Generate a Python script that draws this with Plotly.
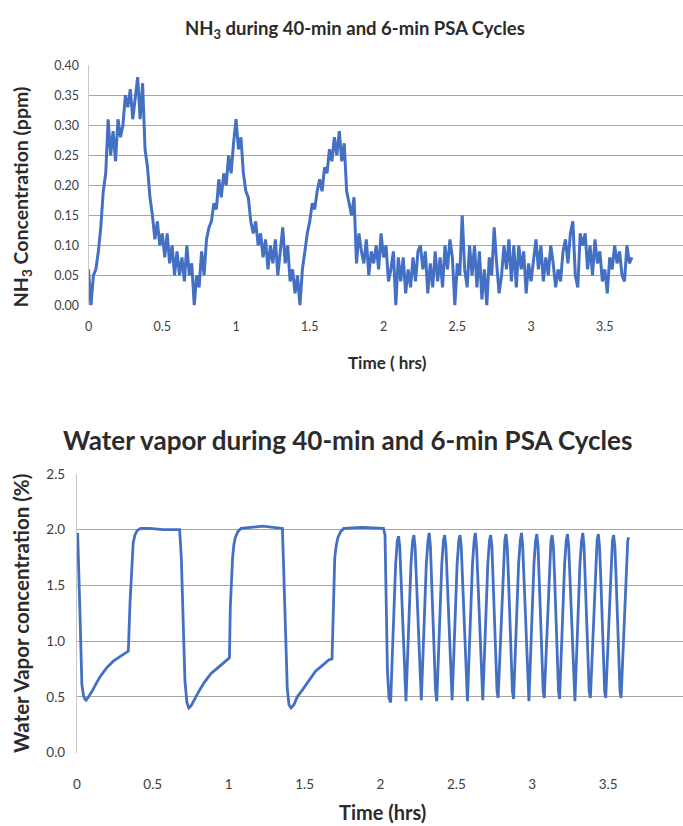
import plotly.graph_objects as go

# ---------------- data ----------------
NH3_STEP_HR = 1.0 / 60.0  # one reading per minute
nh3_ppm = [
    0.06, 0.00, 0.05, 0.06, 0.09, 0.13, 0.19, 0.22, 0.31, 0.25,
    0.29, 0.24, 0.31, 0.28, 0.30, 0.35, 0.33, 0.36, 0.31, 0.35,
    0.38, 0.31, 0.37, 0.26, 0.23, 0.18, 0.15, 0.11, 0.14, 0.10,
    0.12, 0.08, 0.12, 0.07, 0.10, 0.05, 0.09, 0.05, 0.08, 0.04,
    0.10, 0.05, 0.07, 0.00, 0.05, 0.03, 0.09, 0.05, 0.11, 0.13,
    0.14, 0.17, 0.16, 0.21, 0.18, 0.22, 0.20, 0.25, 0.22, 0.27,
    0.31, 0.26, 0.28, 0.22, 0.19, 0.18, 0.14, 0.12, 0.14, 0.10,
    0.12, 0.08, 0.11, 0.06, 0.10, 0.07, 0.11, 0.05, 0.09, 0.13,
    0.07, 0.10, 0.04, 0.06, 0.02, 0.05, 0.00, 0.06, 0.09, 0.12,
    0.14, 0.17, 0.16, 0.19, 0.21, 0.19, 0.23, 0.22, 0.26, 0.24,
    0.28, 0.25, 0.29, 0.24, 0.27, 0.19, 0.17, 0.15, 0.18, 0.07,
    0.12, 0.09, 0.07, 0.11, 0.05, 0.09, 0.07, 0.10, 0.06, 0.12,
    0.08, 0.10, 0.04, 0.06, 0.09, 0.00, 0.08, 0.04, 0.08, 0.02,
    0.06, 0.03, 0.08, 0.04, 0.09, 0.10, 0.06, 0.09, 0.02, 0.07,
    0.03, 0.09, 0.04, 0.08, 0.03, 0.10, 0.06, 0.11, 0.08, 0.00,
    0.07, 0.05, 0.15, 0.06, 0.03, 0.10, 0.05, 0.10, 0.03, 0.09,
    0.01, 0.06, 0.00, 0.08, 0.05, 0.13, 0.07, 0.02, 0.05, 0.10,
    0.06, 0.11, 0.04, 0.10, 0.03, 0.10, 0.06, 0.09, 0.02, 0.07,
    0.04, 0.08, 0.11, 0.06, 0.10, 0.04, 0.08, 0.05, 0.10, 0.07,
    0.03, 0.06, 0.04, 0.09, 0.11, 0.07, 0.12, 0.14, 0.05, 0.03,
    0.12, 0.10, 0.12, 0.06, 0.10, 0.05, 0.11, 0.07, 0.09, 0.04,
    0.06, 0.02, 0.08, 0.06, 0.10, 0.07, 0.09, 0.05, 0.04, 0.10,
    0.07, 0.08,
]
nh3_hours = [round(i * NH3_STEP_HR, 4) for i in range(len(nh3_ppm))]

water_hours = [
    # 40-min cycles
    0.005, 0.014, 0.022, 0.033, 0.044, 0.053, 0.061, 0.077, 0.098, 0.131,
    0.153, 0.196, 0.240, 0.284, 0.327, 0.339, 0.350, 0.365, 0.371, 0.382,
    0.397, 0.419, 0.480, 0.567, 0.677,
    0.688, 0.699, 0.712, 0.725, 0.738, 0.753, 0.775, 0.808, 0.840, 0.884,
    0.928, 0.972, 1.005,
    1.011, 1.026, 1.035, 1.044, 1.060, 1.081, 1.223, 1.354,
    1.360, 1.371, 1.386, 1.397, 1.410, 1.430, 1.452, 1.485, 1.528, 1.572,
    1.616, 1.659, 1.681,
    1.688, 1.699, 1.709, 1.720, 1.737, 1.758, 1.878, 2.020,
    2.030, 2.037, 2.046, 2.056,
    # 6-min cycles
    2.067, 2.078, 2.089, 2.100, 2.111, 2.119, 2.127, 2.135, 2.144, 2.153, 2.161,
    2.168, 2.179, 2.190, 2.201, 2.212, 2.220, 2.228, 2.236, 2.245, 2.254, 2.262,
    2.269, 2.280, 2.291, 2.302, 2.313, 2.321, 2.329, 2.337, 2.346, 2.355, 2.363,
    2.371, 2.382, 2.393, 2.404, 2.415, 2.423, 2.431, 2.439, 2.448, 2.457, 2.465,
    2.472, 2.483, 2.494, 2.505, 2.516, 2.524, 2.532, 2.540, 2.549, 2.558, 2.566,
    2.573, 2.584, 2.595, 2.606, 2.617, 2.625, 2.633, 2.641, 2.650, 2.659, 2.667,
    2.674, 2.685, 2.696, 2.707, 2.718, 2.726, 2.734, 2.742, 2.751, 2.760, 2.768,
    2.775, 2.786, 2.797, 2.808, 2.819, 2.827, 2.835, 2.843, 2.852, 2.861, 2.869,
    2.877, 2.888, 2.899, 2.910, 2.921, 2.929, 2.937, 2.945, 2.954, 2.963, 2.971,
    2.978, 2.989, 3.000, 3.011, 3.022, 3.030, 3.038, 3.046, 3.055, 3.064, 3.072,
    3.079, 3.090, 3.101, 3.112, 3.123, 3.131, 3.139, 3.147, 3.156, 3.165, 3.173,
    3.180, 3.191, 3.202, 3.213, 3.224, 3.232, 3.240, 3.248, 3.257, 3.266, 3.274,
    3.281, 3.292, 3.303, 3.314, 3.325, 3.333, 3.341, 3.349, 3.358, 3.367, 3.375,
    3.383, 3.394, 3.405, 3.416, 3.427, 3.435, 3.443, 3.451, 3.460, 3.469, 3.477,
    3.484, 3.495, 3.506, 3.517, 3.528, 3.536, 3.544, 3.552, 3.561, 3.570, 3.578,
    3.585, 3.596, 3.607, 3.618, 3.629, 3.635,
]
water_pct = [
    1.97, 1.60, 1.17, 0.61, 0.51, 0.48, 0.47, 0.50, 0.545, 0.63,
    0.68, 0.76, 0.82, 0.86, 0.90, 0.91, 1.34, 1.78, 1.88, 1.95,
    1.99, 2.01, 2.01, 2.00, 2.00,
    1.75, 1.17, 0.64, 0.45, 0.40, 0.42, 0.48, 0.56, 0.63, 0.71,
    0.76, 0.81, 0.85,
    1.31, 1.75, 1.87, 1.93, 1.98, 2.01, 2.03, 2.01,
    1.75, 1.17, 0.58, 0.43, 0.40, 0.43, 0.50, 0.56, 0.65, 0.73,
    0.78, 0.83, 0.84,
    1.31, 1.75, 1.86, 1.93, 1.98, 2.01, 2.02, 2.01,
    1.95, 1.31, 0.73, 0.49,
    0.45, 0.87, 1.31, 1.69, 1.90, 1.94, 1.85, 1.58, 1.22, 0.87, 0.55,
    0.46, 0.87, 1.31, 1.69, 1.90, 1.95, 1.85, 1.58, 1.22, 0.87, 0.55,
    0.47, 0.87, 1.31, 1.69, 1.90, 1.97, 1.85, 1.58, 1.22, 0.87, 0.55,
    0.46, 0.87, 1.31, 1.69, 1.90, 1.95, 1.85, 1.58, 1.22, 0.87, 0.55,
    0.47, 0.87, 1.31, 1.69, 1.90, 1.95, 1.85, 1.58, 1.22, 0.87, 0.55,
    0.46, 0.87, 1.31, 1.69, 1.90, 1.97, 1.85, 1.58, 1.22, 0.87, 0.55,
    0.47, 0.87, 1.31, 1.69, 1.90, 1.95, 1.85, 1.58, 1.22, 0.87, 0.55,
    0.49, 0.87, 1.31, 1.69, 1.90, 1.96, 1.85, 1.58, 1.22, 0.87, 0.55,
    0.48, 0.87, 1.31, 1.69, 1.90, 1.97, 1.85, 1.58, 1.22, 0.87, 0.55,
    0.46, 0.87, 1.31, 1.69, 1.90, 1.96, 1.85, 1.58, 1.22, 0.87, 0.55,
    0.49, 0.87, 1.31, 1.69, 1.90, 1.95, 1.85, 1.58, 1.22, 0.87, 0.55,
    0.48, 0.87, 1.31, 1.69, 1.90, 1.96, 1.85, 1.58, 1.22, 0.87, 0.55,
    0.46, 0.87, 1.31, 1.69, 1.90, 1.97, 1.85, 1.58, 1.22, 0.87, 0.55,
    0.49, 0.87, 1.31, 1.69, 1.90, 1.96, 1.85, 1.58, 1.22, 0.87, 0.55,
    0.49, 0.87, 1.31, 1.69, 1.90, 1.95, 1.85, 1.58, 1.22, 0.87, 0.55,
    0.49, 0.87, 1.31, 1.69, 1.90, 1.93,
]

x_tick_vals = [0, 0.5, 1, 1.5, 2, 2.5, 3, 3.5]
x_tick_text = ["0", "0.5", "1", "1.5", "2", "2.5", "3", "3.5"]

top_title = "<b>NH<sub>3</sub> during 40-min and 6-min PSA Cycles</b>"
top_ytitle = "<b>NH<sub>3</sub> Concentration (ppm)</b>"
top_xtitle = "<b>Time ( hrs)</b>"
bot_title = "<b>Water vapor during 40-min and 6-min PSA Cycles</b>"
bot_ytitle = "<b>Water Vapor concentration (%)</b>"
bot_xtitle = "<b>Time (hrs)</b>"

# ---------------- figure ----------------
W, H = 683, 826
LINE = "#4470C4"
GRID = "#a6a6a6"
TXT = "#2b2b2b"
TICK = "#404040"
FONT = "Lato, 'Open Sans', sans-serif"


def px(x):
    return x / W


def py(y):
    return 1 - y / H


fig = go.Figure()
fig.add_trace(go.Scatter(x=nh3_hours, y=nh3_ppm, mode="lines",
                         line=dict(color=LINE, width=3), xaxis="x", yaxis="y",
                         showlegend=False, hoverinfo="skip"))
fig.add_trace(go.Scatter(x=water_hours, y=water_pct, mode="lines",
                         line=dict(color=LINE, width=2.8), xaxis="x2", yaxis="y2",
                         showlegend=False, hoverinfo="skip"))

common_x = dict(showgrid=False, zeroline=False, showline=False, ticks="",
                tickvals=x_tick_vals, ticktext=x_tick_text)
common_y = dict(showgrid=True, gridcolor=GRID, gridwidth=1, zeroline=False,
                showline=True, linecolor="#c8c8c8", linewidth=1, ticks="")

fig.update_layout(
    width=W, height=H, margin=dict(l=0, r=0, t=0, b=0),
    paper_bgcolor="white", plot_bgcolor="white",
    xaxis=dict(domain=[px(85), 1], range=[0, 4.03], anchor="y",
               ticklabelstandoff=12,
               tickfont=dict(family=FONT, size=12.5, color=TICK), **common_x),
    yaxis=dict(domain=[py(303.3), py(58.3)], range=[0, 0.4], dtick=0.05,
               tickformat=".2f", anchor="x", ticklabelstandoff=6,
               tickfont=dict(family=FONT, size=12.5, color=TICK), **common_y),
    xaxis2=dict(domain=[px(73.3), 1], range=[0, 3.993], anchor="y2",
                ticklabelstandoff=22,
                tickfont=dict(family=FONT, size=13.5, color=TICK), **common_x),
    yaxis2=dict(domain=[py(759.3), py(475)], range=[0, 2.5], dtick=0.5,
                tickformat=".1f", anchor="x2", ticklabelstandoff=8,
                tickfont=dict(family=FONT, size=13.5, color=TICK), **common_y),
)

ann = [
    (top_title, 353, 22, 18.5, 0),
    (top_ytitle, 18, 192, 19.5, -90),
    (top_xtitle, 386, 362, 17, 0),
    (bot_title, 346, 441, 26, 0),
    (bot_ytitle, 17, 617, 20.5, -90),
    (bot_xtitle, 381, 820, 20, 0),
]
for text, x, y, size, ang in ann:
    fig.add_annotation(text=text, x=px(x), y=py(y), xref="paper", yref="paper",
                       xanchor="center", yanchor="middle", showarrow=False,
                       textangle=ang, font=dict(family=FONT, size=size, color=TXT))

fig.write_html("out.html")
